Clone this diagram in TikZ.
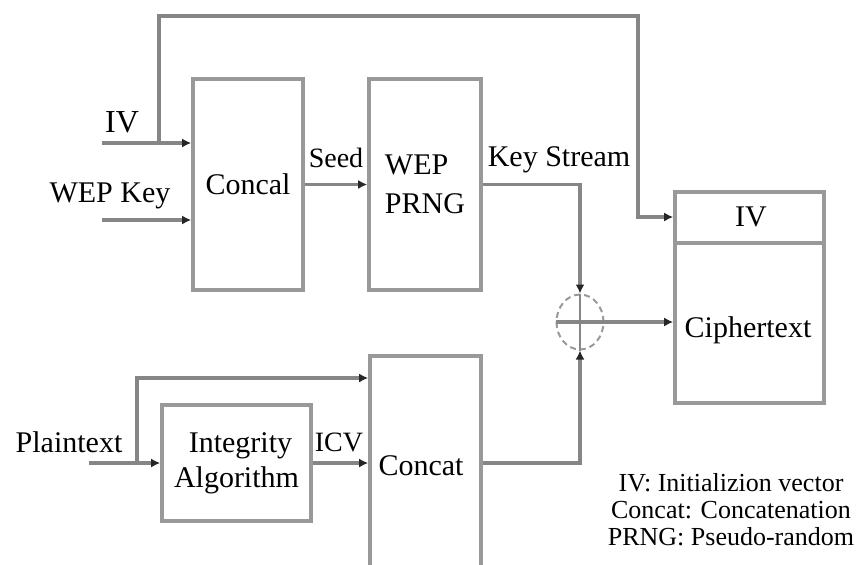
\documentclass[tikz,border=0pt]{standalone}
\usepackage{fontspec}
\setmainfont{Liberation Serif}
\usetikzlibrary{arrows.meta,positioning,calc,shapes.geometric}

\begin{document}
\begin{tikzpicture}[x=0.5pt,y=-0.5pt,
  blk/.style={draw=gray!80,line width=1.8pt,inner sep=0pt,font=\fontsize{15}{17.5}\selectfont},
  wire/.style={draw=gray!95,line width=1.7pt},
  arr/.style={wire,-{Latex[length=4.5pt,width=4.5pt,color=black!85]}},
  lbl/.style={inner sep=0pt,font=\fontsize{15}{17.5}\selectfont},
  small/.style={inner sep=0pt,font=\fontsize{14}{16}\selectfont}]
  \useasboundingbox (0,0) rectangle (864,564);
  \clip (0,0) rectangle (864,564);

  \node[blk,minimum width=55pt,minimum height=105.5pt] (concal) at (248,184.5) {Concal};
  \node[blk,minimum width=56pt,minimum height=105.5pt,align=left] (prng) at (425,184.5) {WEP\\[2pt]PRNG};
  \node[blk,minimum width=55.5pt,minimum height=130pt,text depth=0pt] (concat) at (425.5,486) {};
  \node[lbl] (concattxt) at (421,466) {Concat};
  \node[blk,minimum width=74.5pt,minimum height=58pt,align=center] (integ) at (236.5,463) {\hspace*{4pt}Integrity\\Algorithm};
  \node[blk,minimum width=74.5pt,minimum height=105.5pt] (cbox) at (749.5,297.5) {};
  \node[lbl] (ivtxt) at (751,217) {IV};
  \node[lbl] (ctxt) at (748,330) {Ciphertext};
  \node[draw=gray!80,densely dashed,line width=1pt,ellipse,inner sep=0pt,
        minimum width=23.5pt,minimum height=27.5pt] (xor) at (580,322) {};

  \coordinate (dl) at (675,243);
  \draw[blk] (dl) -- (dl -| cbox.east);

  \node[lbl,font=\fontsize{16}{18}\selectfont] (ivlbl) at (122,122) {IV};
  \node[lbl] (keylbl) at (110,196) {WEP Key};
  \node[small] (seedlbl) at (336,158) {Seed};
  \node[lbl] (kslbl) at (559,160) {Key Stream};
  \node[lbl] (ptlbl) at (69,442) {Plaintext};
  \node[small] (icvlbl) at (339,442) {ICV};
  \node[inner sep=0pt,align=center,font=\fontsize{13}{13.5}\selectfont] (legend) at (731,510)
    {IV: Initializion vector\\Concat: Concatenation\\PRNG: Pseudo-random};

  \coordinate (ivin) at (102,143);
  \coordinate (ivbr) at (159,143);
  \coordinate (ivup) at (159,16);
  \coordinate (ivdn) at (638,217);
  \coordinate (keyin) at (102,220);
  \coordinate (ptin) at (89,463);
  \coordinate (ptbr) at (137,463);
  \coordinate (ptup) at (137,378);

  \draw[arr] (ivin) -- (ivin -| concal.west);
  \draw[arr] (ivbr) -- (ivup) -| (ivdn) -- (ivdn -| cbox.west);
  \draw[arr] (keyin) -- (keyin -| concal.west);
  \draw[arr] (concal) -- (prng);
  \draw[arr] (prng.east) -| (xor.north);
  \draw[arr] (concat.east |- integ) -| (xor.south);
  \draw[wire] (xor.west) -- (xor.east);
  \draw[wire,line width=1pt] (xor.north) -- (xor.south);
  \draw[arr] (xor.east) -- (xor -| cbox.west);
  \draw[arr] (ptin) -- (integ);
  \draw[arr] (ptbr) -- (ptup) -- (ptup -| concat.west);
  \draw[arr] (integ) -- (integ -| concat.west);
\end{tikzpicture}
\end{document}
